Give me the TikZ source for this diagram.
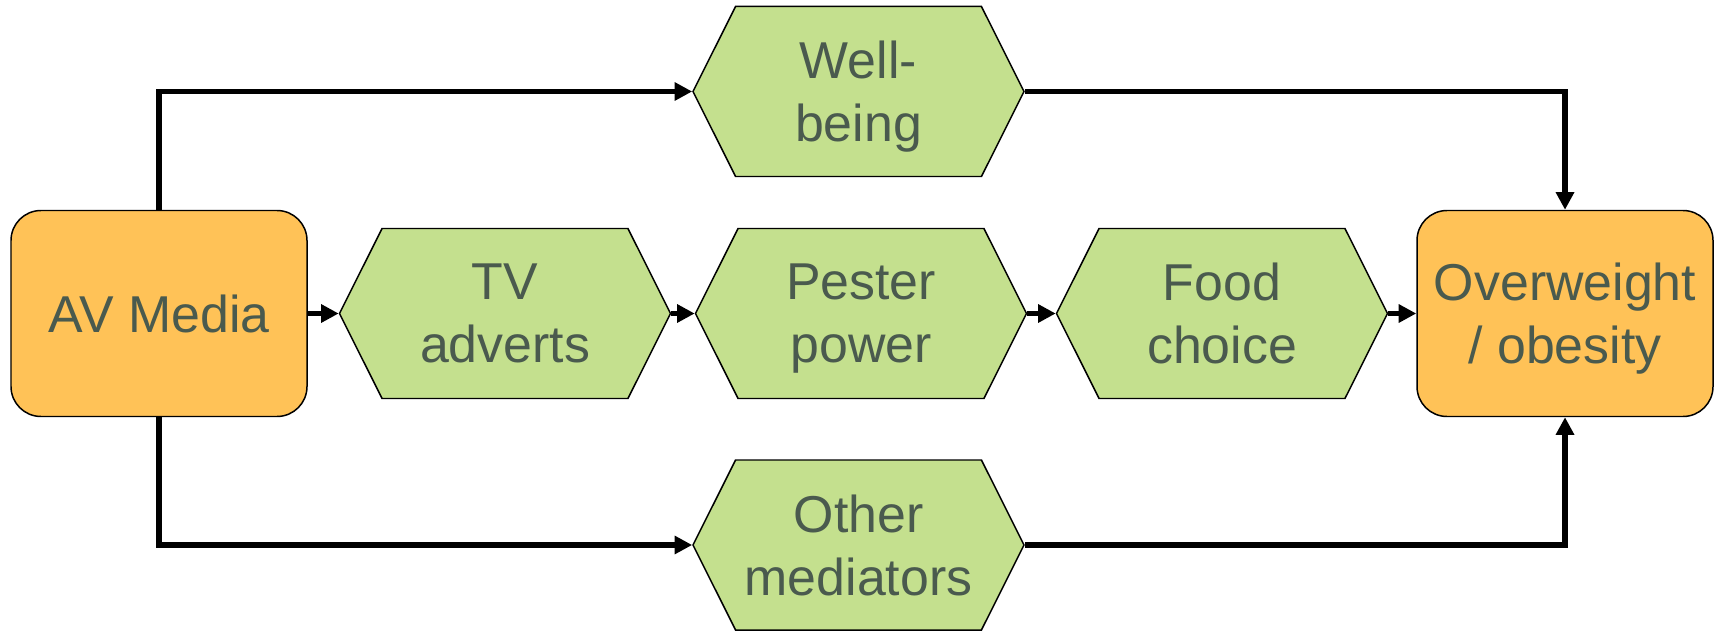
\documentclass[tikz,border=0pt]{standalone}
\usepackage{fontspec}
\setmainfont{Liberation Sans}
\usetikzlibrary{shapes.symbols,arrows.meta}
\definecolor{boxorange}{RGB}{255,194,87}
\definecolor{hexgreen}{RGB}{196,224,142}
\definecolor{labelgrey}{RGB}{74,90,78}

\begin{document}
\begin{tikzpicture}[
  outcome/.style={draw=black,line width=0.85pt,fill=boxorange,rounded corners=0.6cm,
    minimum width=5.92cm,minimum height=4.12cm,align=center,text=labelgrey,text depth=0pt,
    font=\fontsize{29.5}{36}\selectfont},
  mediator/.style={shape=signal,signal to=east and west,signal pointer angle=126.8,
    draw=black,line width=0.85pt,fill=hexgreen,minimum width=6.62cm,minimum height=3.40cm,
    align=center,text=labelgrey,text depth=0pt,font=\fontsize{29.5}{36}\selectfont},
  flow/.style={line width=3.4pt,-{Triangle[length=10pt,width=10pt]}}
]
\useasboundingbox (0,0) rectangle (34.38,-12.62);
% main chain
\node[outcome] (av) at (3.18,-6.27) {AV Media};
\node[mediator] (tv) at (10.10,-6.27) {TV\\adverts};
\node[mediator] (pester) at (17.22,-6.27) {Pester\\power};
\node[mediator] (food) at (24.44,-6.27) {Food\\choice};
\node[outcome] (ow) at (31.30,-6.27) {Overweight\\/ obesity};
% side paths
\node[mediator] (well) at (17.17,-1.83) {Well-\\being};
\node[mediator] (other) at (17.17,-10.90) {Other\\mediators};
\draw[flow] (av.east) -- (tv.west);
\draw[flow] (tv.east) -- (pester.west);
\draw[flow] (pester.east) -- (food.west);
\draw[flow] (food.east) -- (ow.west);
\draw[flow] (av.north) |- (well.west);
\draw[flow] (well.east) -| (ow.north);
\draw[flow] (av.south) |- (other.west);
\draw[flow] (other.east) -| (ow.south);
\end{tikzpicture}
\end{document}
